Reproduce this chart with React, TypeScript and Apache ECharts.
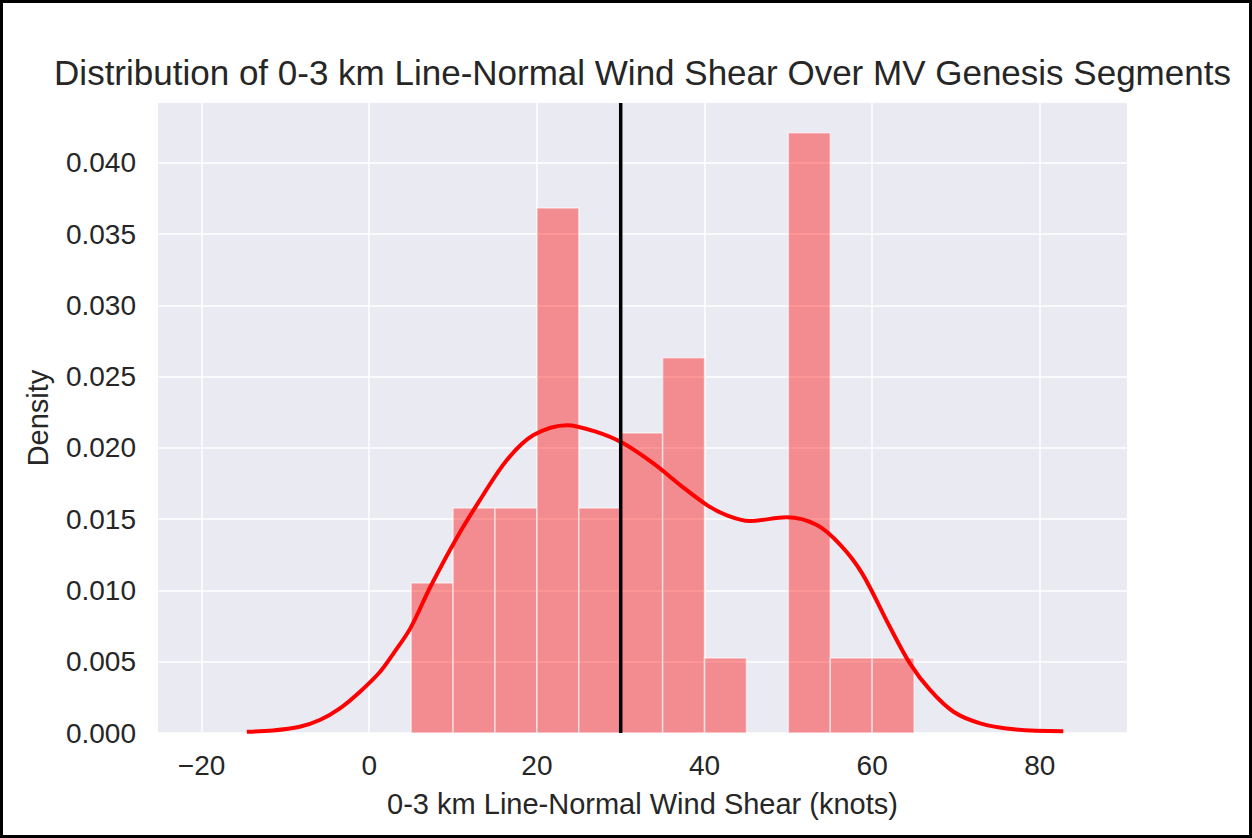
import React, { useEffect, useRef } from "react";
import * as echarts from "echarts";

// Histogram: bin edges (knots) and density per bin
const binStarts = [5, 10, 15, 20, 25, 30, 35, 40, 45, 50, 55, 60];
const binEnds = [10, 15, 20, 25, 30, 35, 40, 45, 50, 55, 60, 65];
const binDensity = [0.01053, 0.01579, 0.01579, 0.03684, 0.01579, 0.02105, 0.02632, 0.00526, 0, 0.04211, 0.00526, 0.00526];

// KDE curve
const kdeX = [-14.6, -11.5, -8.3, -5.9, -3.5, -1.1, 1.3, 2.9, 4.9, 7.3, 10.4, 13.2, 16.4, 19.6, 23.6, 27.1, 30.1, 33.9, 37.1, 40.3, 42.6, 45.4, 49.8, 53.4, 56.2, 58.8, 62.1, 64.5, 66.9, 69.7, 72.9, 76.9, 82.8];
const kdeY = [0.00009, 0.00018, 0.00044, 0.00091, 0.00173, 0.0029, 0.0043, 0.00559, 0.00734, 0.01026, 0.01365, 0.01634, 0.01914, 0.0209, 0.0216, 0.02113, 0.02039, 0.01891, 0.01739, 0.01599, 0.01529, 0.01488, 0.01513, 0.01459, 0.0132, 0.0112, 0.00745, 0.00489, 0.00302, 0.00149, 0.00068, 0.00026, 0.00012];

const markerX = 30;
const xTicks = [-20, 0, 20, 40, 60, 80];
const yTicks = [0, 0.005, 0.01, 0.015, 0.02, 0.025, 0.03, 0.035, 0.04];
const xMin = -25.2;
const xMax = 90.4;
const yMax = 0.0442;

const titleText = "Distribution of 0-3 km Line-Normal Wind Shear Over MV Genesis Segments";
const xName = "0-3 km Line-Normal Wind Shear (knots)";
const yName = "Density";

export default function App() {
  const ref = useRef<HTMLDivElement>(null);
  useEffect(() => {
    if (!ref.current) return;
    const chart = echarts.init(ref.current, null, { renderer: "svg" });
    const font = "'Liberation Sans', Arial, Helvetica, sans-serif";
    const textColor = "#262626";
    const histData = binStarts
      .map((s, i) => [s, binEnds[i], binDensity[i]])
      .filter((d) => d[2] > 0);
    chart.setOption({
      animation: false,
      backgroundColor: "#ffffff",
      grid: {
        left: 158,
        top: 103,
        width: 969,
        height: 630,
        show: true,
        backgroundColor: "#EAEAF2",
        borderWidth: 0,
      },
      xAxis: {
        type: "value",
        min: xMin,
        max: xMax,
        axisLine: { show: false },
        axisTick: { show: false, customValues: xTicks },
        splitLine: { show: true, lineStyle: { color: "#ffffff", width: 1.5 } },
        axisLabel: {
          customValues: xTicks,
          fontSize: 28,
          fontFamily: font,
          color: textColor,
          margin: 18,
          formatter: (v: number) => (v < 0 ? "\u2212" + Math.abs(v) : String(v)),
        },
      },
      yAxis: {
        type: "value",
        min: 0,
        max: yMax,
        axisLine: { show: false },
        axisTick: { show: false, customValues: yTicks },
        splitLine: { show: true, lineStyle: { color: "#ffffff", width: 1.5 } },
        axisLabel: {
          customValues: yTicks,
          fontSize: 28,
          fontFamily: font,
          color: textColor,
          margin: 22,
          formatter: (v: number) => v.toFixed(3),
        },
      },
      graphic: [
        {
          type: "rect",
          shape: { x: 1.5, y: 1.5, width: 1249, height: 835 },
          style: { fill: "none", stroke: "#000", lineWidth: 3 },
          silent: true,
        },
        {
          type: "text",
          x: 642.5,
          y: 72,
          style: {
            text: titleText,
            fontSize: 35,
            fontFamily: font,
            fill: textColor,
            align: "center",
            verticalAlign: "middle",
          },
        },
        {
          type: "text",
          x: 642.5,
          y: 804,
          style: {
            text: xName,
            fontSize: 29,
            fontFamily: font,
            fill: textColor,
            align: "center",
            verticalAlign: "middle",
          },
        },
        {
          type: "text",
          x: 38,
          y: 418,
          rotation: Math.PI / 2,
          style: {
            text: yName,
            fontSize: 29,
            fontFamily: font,
            fill: textColor,
            align: "center",
            verticalAlign: "middle",
          },
        },
      ],
      series: [
        {
          type: "custom",
          data: histData,
          encode: { x: [0, 1], y: 2 },
          z: 2,
          renderItem: (params: any, api: any) => {
            const p0 = api.coord([api.value(0), api.value(2)]);
            const p1 = api.coord([api.value(1), 0]);
            return {
              type: "rect",
              shape: { x: p0[0], y: p0[1], width: p1[0] - p0[0], height: p1[1] - p0[1] },
              style: { fill: "rgba(255,0,0,0.4)", stroke: "rgba(255,255,255,0.55)", lineWidth: 1.5 },
            };
          },
        },
        {
          type: "line",
          data: kdeX.map((x, i) => [x, kdeY[i]]),
          smooth: 0.33,
          showSymbol: false,
          z: 3,
          lineStyle: { color: "#ff0000", width: 4 },
        },
        {
          type: "line",
          data: [
            [markerX, 0],
            [markerX, yMax],
          ],
          showSymbol: false,
          z: 4,
          lineStyle: { color: "#000000", width: 3.5 },
        },
      ],
    });
    return () => chart.dispose();
  }, []);
  return (
    <div
      ref={ref}
      style={{ position: "absolute", left: 0, top: 0, width: 1252, height: 838, background: "#fff" }}
    />
  );
}
